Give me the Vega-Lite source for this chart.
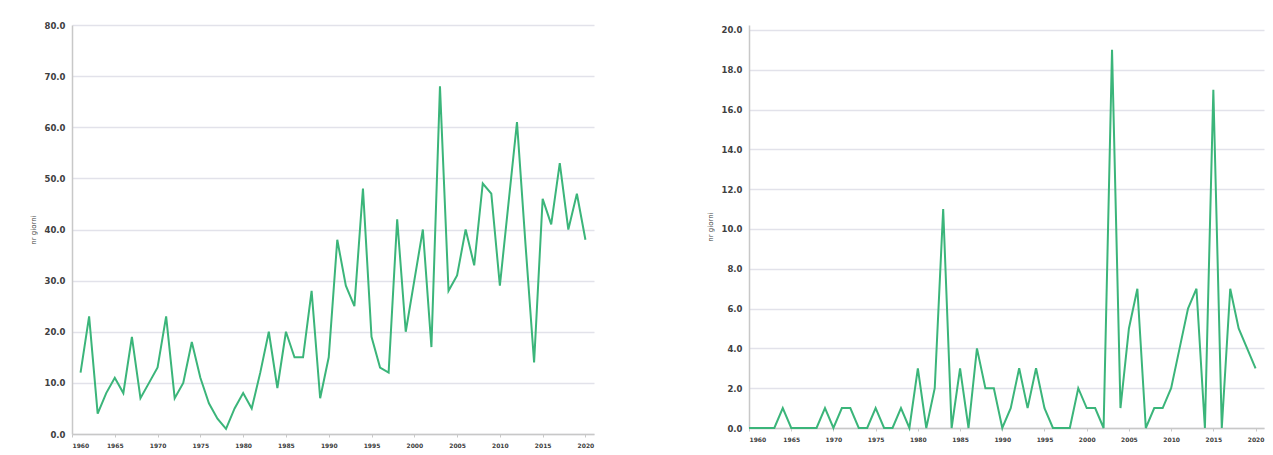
{
  "$schema": "https://vega.github.io/schema/vega-lite/v6.json",
  "background": "white",
  "padding": {"left": 29, "top": 21, "right": 5, "bottom": 0},
  "spacing": 112,
  "datasets": {
    "left": [
      {"anno": 1961, "giorni": 12}, {"anno": 1962, "giorni": 23}, {"anno": 1963, "giorni": 4},
      {"anno": 1964, "giorni": 8}, {"anno": 1965, "giorni": 11}, {"anno": 1966, "giorni": 8},
      {"anno": 1967, "giorni": 19}, {"anno": 1968, "giorni": 7}, {"anno": 1969, "giorni": 10},
      {"anno": 1970, "giorni": 13}, {"anno": 1971, "giorni": 23}, {"anno": 1972, "giorni": 7},
      {"anno": 1973, "giorni": 10}, {"anno": 1974, "giorni": 18}, {"anno": 1975, "giorni": 11},
      {"anno": 1976, "giorni": 6}, {"anno": 1977, "giorni": 3}, {"anno": 1978, "giorni": 1},
      {"anno": 1979, "giorni": 5}, {"anno": 1980, "giorni": 8}, {"anno": 1981, "giorni": 5},
      {"anno": 1982, "giorni": 12}, {"anno": 1983, "giorni": 20}, {"anno": 1984, "giorni": 9},
      {"anno": 1985, "giorni": 20}, {"anno": 1986, "giorni": 15}, {"anno": 1987, "giorni": 15},
      {"anno": 1988, "giorni": 28}, {"anno": 1989, "giorni": 7}, {"anno": 1990, "giorni": 15},
      {"anno": 1991, "giorni": 38}, {"anno": 1992, "giorni": 29}, {"anno": 1993, "giorni": 25},
      {"anno": 1994, "giorni": 48}, {"anno": 1995, "giorni": 19}, {"anno": 1996, "giorni": 13},
      {"anno": 1997, "giorni": 12}, {"anno": 1998, "giorni": 42}, {"anno": 1999, "giorni": 20},
      {"anno": 2000, "giorni": 30}, {"anno": 2001, "giorni": 40}, {"anno": 2002, "giorni": 17},
      {"anno": 2003, "giorni": 68}, {"anno": 2004, "giorni": 28}, {"anno": 2005, "giorni": 31},
      {"anno": 2006, "giorni": 40}, {"anno": 2007, "giorni": 33}, {"anno": 2008, "giorni": 49},
      {"anno": 2009, "giorni": 47}, {"anno": 2010, "giorni": 29}, {"anno": 2011, "giorni": 45},
      {"anno": 2012, "giorni": 61}, {"anno": 2013, "giorni": 37}, {"anno": 2014, "giorni": 14},
      {"anno": 2015, "giorni": 46}, {"anno": 2016, "giorni": 41}, {"anno": 2017, "giorni": 53},
      {"anno": 2018, "giorni": 40}, {"anno": 2019, "giorni": 47}, {"anno": 2020, "giorni": 38}
    ],
    "right": [
      {"anno": 1960, "giorni": 0}, {"anno": 1961, "giorni": 0}, {"anno": 1962, "giorni": 0},
      {"anno": 1963, "giorni": 0}, {"anno": 1964, "giorni": 1}, {"anno": 1965, "giorni": 0},
      {"anno": 1966, "giorni": 0}, {"anno": 1967, "giorni": 0}, {"anno": 1968, "giorni": 0},
      {"anno": 1969, "giorni": 1}, {"anno": 1970, "giorni": 0}, {"anno": 1971, "giorni": 1},
      {"anno": 1972, "giorni": 1}, {"anno": 1973, "giorni": 0}, {"anno": 1974, "giorni": 0},
      {"anno": 1975, "giorni": 1}, {"anno": 1976, "giorni": 0}, {"anno": 1977, "giorni": 0},
      {"anno": 1978, "giorni": 1}, {"anno": 1979, "giorni": 0}, {"anno": 1980, "giorni": 3},
      {"anno": 1981, "giorni": 0}, {"anno": 1982, "giorni": 2}, {"anno": 1983, "giorni": 11},
      {"anno": 1984, "giorni": 0}, {"anno": 1985, "giorni": 3}, {"anno": 1986, "giorni": 0},
      {"anno": 1987, "giorni": 4}, {"anno": 1988, "giorni": 2}, {"anno": 1989, "giorni": 2},
      {"anno": 1990, "giorni": 0}, {"anno": 1991, "giorni": 1}, {"anno": 1992, "giorni": 3},
      {"anno": 1993, "giorni": 1}, {"anno": 1994, "giorni": 3}, {"anno": 1995, "giorni": 1},
      {"anno": 1996, "giorni": 0}, {"anno": 1997, "giorni": 0}, {"anno": 1998, "giorni": 0},
      {"anno": 1999, "giorni": 2}, {"anno": 2000, "giorni": 1}, {"anno": 2001, "giorni": 1},
      {"anno": 2002, "giorni": 0}, {"anno": 2003, "giorni": 19}, {"anno": 2004, "giorni": 1},
      {"anno": 2005, "giorni": 5}, {"anno": 2006, "giorni": 7}, {"anno": 2007, "giorni": 0},
      {"anno": 2008, "giorni": 1}, {"anno": 2009, "giorni": 1}, {"anno": 2010, "giorni": 2},
      {"anno": 2011, "giorni": 4}, {"anno": 2012, "giorni": 6}, {"anno": 2013, "giorni": 7},
      {"anno": 2014, "giorni": 0}, {"anno": 2015, "giorni": 17}, {"anno": 2016, "giorni": 0},
      {"anno": 2017, "giorni": 7}, {"anno": 2018, "giorni": 5}, {"anno": 2019, "giorni": 4},
      {"anno": 2020, "giorni": 3}
    ]
  },
  "hconcat": [
    {
      "data": {"name": "left"},
      "width": 522,
      "height": 409,
      "mark": {"type": "line", "color": "#3bb57a", "strokeWidth": 2},
      "encoding": {
        "x": {
          "field": "anno", "type": "quantitative",
          "scale": {"domain": [1960, 2021], "nice": false, "zero": false},
          "axis": {"title": null, "values": [1960, 1965, 1970, 1975, 1980, 1985, 1990, 1995, 2000, 2005, 2010, 2015, 2020], "format": "d", "grid": false}
        },
        "y": {
          "field": "giorni", "type": "quantitative",
          "scale": {"domain": [0, 80], "nice": false},
          "axis": {"title": "nr giorni", "values": [0, 10, 20, 30, 40, 50, 60, 70, 80], "format": ".1f"}
        }
      }
    },
    {
      "data": {"name": "right"},
      "width": 515,
      "height": 403,
      "mark": {"type": "line", "color": "#3bb57a", "strokeWidth": 2},
      "encoding": {
        "x": {
          "field": "anno", "type": "quantitative",
          "scale": {"domain": [1960, 2021], "nice": false, "zero": false},
          "axis": {"title": null, "values": [1960, 1965, 1970, 1975, 1980, 1985, 1990, 1995, 2000, 2005, 2010, 2015, 2020], "format": "d", "grid": false}
        },
        "y": {
          "field": "giorni", "type": "quantitative",
          "scale": {"domain": [0, 20.25], "nice": false},
          "axis": {"title": "nr giorni", "values": [0, 2, 4, 6, 8, 10, 12, 14, 16, 18, 20], "format": ".1f"}
        }
      }
    }
  ],
  "config": {
    "view": {"stroke": null},
    "font": "DejaVu Sans",
    "axis": {
      "labelFont": "DejaVu Sans",
      "labelFontWeight": "bold",
      "labelColor": "#404040",
      "titleFont": "DejaVu Sans",
      "titleFontSize": 7,
      "titleFontWeight": "normal",
      "titleColor": "#404040",
      "domainColor": "#c8c8c8",
      "tickColor": "#c8c8c8",
      "gridColor": "#e2e2ea",
      "gridWidth": 1.5
    },
    "axisY": {"labelFontSize": 8.5, "labelPadding": 7, "titlePadding": 8, "tickSize": 0, "domainWidth": 1.5},
    "axisX": {"labelFontSize": 6, "labelPadding": 5, "tickSize": 3, "domainWidth": 1.5}
  }
}
